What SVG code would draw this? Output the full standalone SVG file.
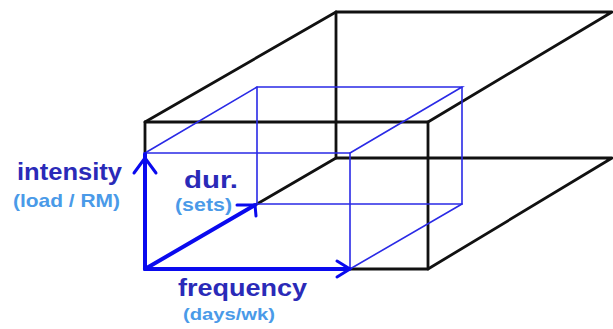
<svg xmlns="http://www.w3.org/2000/svg" width="613" height="329" viewBox="0 0 613 329">
<style>
.blk{stroke:#111;stroke-width:2.8;fill:none;stroke-linecap:round;stroke-linejoin:round}
.thin{stroke:#2a2ae6;stroke-width:1.6;fill:none;stroke-linecap:round}
.axis{stroke:#0a0aee;stroke-width:4;fill:none;stroke-linecap:round;stroke-linejoin:round}
.head{stroke:#0a0aee;stroke-width:3;fill:none;stroke-linecap:round;stroke-linejoin:round}
.lbl{font-family:"Liberation Sans",Arial,sans-serif;font-weight:bold;fill:#2a2ab8}
.sub{font-family:"Liberation Sans",Arial,sans-serif;font-weight:bold;fill:#4a9ae8}
</style>
<rect width="613" height="329" fill="#fff"/>
<g id="outer-box">
<polyline class="blk" points="145,153 145,122 428,122 428,269 350,269"/>
<polyline class="blk" points="145,122 336,12 612,12 428,122"/>
<polyline class="blk" points="336,12 336,158 612,158 428,269"/>
<line class="blk" x1="336" y1="158" x2="257" y2="204"/>
</g>
<g id="inner-box">
<polyline class="thin" points="145,153 350,153 350,269"/>
<polyline class="thin" points="145,153 257,87 462,87 350,153"/>
<polyline class="thin" points="257,87 257,204 462,204 462,87"/>
<line class="thin" x1="462" y1="204" x2="350" y2="269"/>
</g>
<g id="connectors">
<line class="axis" x1="145" y1="269" x2="145" y2="154"/>
<polyline class="head" points="134,173 145,158 156,173"/>
<line class="axis" x1="145" y1="269" x2="349" y2="269"/>
<polyline class="head" points="337,261 350,269 337,277"/>
<line class="axis" x1="145" y1="269" x2="255" y2="205"/>
<polyline class="head" points="237,205 255,205 256,216"/>
</g>
<g id="intensity">
<text class="lbl" x="17" y="180" font-size="23" textLength="105" lengthAdjust="spacingAndGlyphs">intensity</text>
<text class="sub" x="13" y="207" font-size="19" textLength="107" lengthAdjust="spacingAndGlyphs">(load / RM)</text>
</g>
<g id="duration">
<text class="lbl" x="184" y="188" font-size="23" textLength="54" lengthAdjust="spacingAndGlyphs">dur.</text>
<text class="sub" x="175" y="211" font-size="18" textLength="57" lengthAdjust="spacingAndGlyphs">(sets)</text>
</g>
<g id="frequency">
<text class="lbl" x="178" y="296" font-size="23" textLength="129" lengthAdjust="spacingAndGlyphs">frequency</text>
<text class="sub" x="183" y="320" font-size="17" textLength="92" lengthAdjust="spacingAndGlyphs">(days/wk)</text>
</g>
</svg>
